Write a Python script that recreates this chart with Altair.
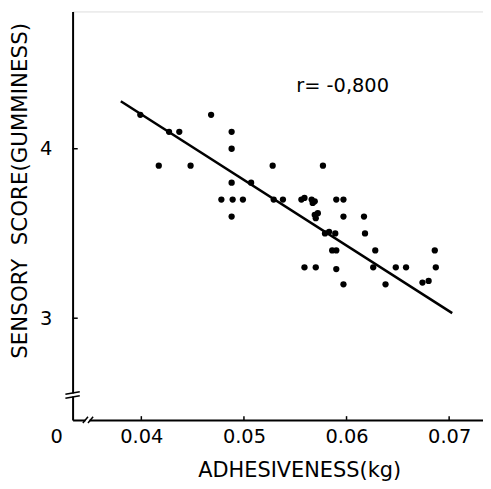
import altair as alt
import pandas as pd

# ---- data ----
adhesiveness = [0.0399, 0.0417, 0.0427, 0.0437, 0.0448, 0.0468, 0.0488, 0.0488, 0.0488, 0.0507,
                0.0478, 0.0489, 0.0499, 0.0529, 0.0538, 0.0528, 0.0488, 0.0556, 0.0559, 0.0566,
                0.0569, 0.0567, 0.0577, 0.0590, 0.0597, 0.0569, 0.0572, 0.0570, 0.0597, 0.0617,
                0.0579, 0.0583, 0.0589, 0.0618, 0.0586, 0.0590, 0.0628, 0.0686, 0.0559, 0.0570,
                0.0590, 0.0626, 0.0648, 0.0658, 0.0687, 0.0597, 0.0638, 0.0674, 0.0680]
score = [4.2, 3.9, 4.1, 4.1, 3.9, 4.2, 4.1, 4.0, 3.8, 3.8,
         3.7, 3.7, 3.7, 3.7, 3.7, 3.9, 3.6, 3.7, 3.71, 3.7,
         3.69, 3.68, 3.9, 3.7, 3.7, 3.61, 3.62, 3.59, 3.6, 3.6,
         3.5, 3.51, 3.5, 3.5, 3.4, 3.4, 3.4, 3.4, 3.3, 3.3,
         3.29, 3.3, 3.3, 3.3, 3.3, 3.2, 3.2, 3.21, 3.22]
fit_x = [0.0380, 0.0703]
fit_y = [4.28, 3.03]
x_ticks = [0.04, 0.05, 0.06, 0.07]
y_ticks = [3, 4]
r_label = "r= -0,800"
x_title = "ADHESIVENESS(kg)"
y_title = "SENSORY\u00a0 SCORE(GUMMINESS)"

XMIN, XMAX = 0.0333, 0.0733
YMIN, YMAX = 2.40, 4.81
W, H = 413, 411
FONT = "DejaVu Sans"

xs = alt.Scale(domain=[XMIN, XMAX], nice=False, zero=False)
ys = alt.Scale(domain=[YMIN, YMAX], nice=False, zero=False)

pts_df = pd.DataFrame({"x": adhesiveness, "y": score})
fit_df = pd.DataFrame({"x": fit_x, "y": fit_y})

x_axis = alt.Axis(values=x_ticks, format=".2f", title=x_title, grid=False,
                  ticks=False, labelPadding=8, domainColor="black", domainWidth=2,
                  labelFont=FONT, labelFontSize=19.5, labelColor="black", labelFlush=False,
                  titleFont=FONT, titleFontSize=21, titleFontWeight="normal", titleColor="black",
                  titleX=228, titleY=51, titleBaseline="middle", titleAlign="center")
y_axis = alt.Axis(values=y_ticks, format="d", title=y_title, grid=False,
                  ticks=False, labelPadding=21, domainColor="black", domainWidth=2,
                  labelFont=FONT, labelFontSize=19.5, labelColor="black", labelFlush=False,
                  titleFont=FONT, titleFontSize=21.5, titleFontWeight="normal", titleColor="black",
                  titleX=-52, titleY=180, titleBaseline="middle", titleAlign="center", titleAngle=-90)

points = alt.Chart(pts_df).mark_circle(size=40, color="black", opacity=1).encode(
    x=alt.X("x:Q", scale=xs, axis=x_axis),
    y=alt.Y("y:Q", scale=ys, axis=y_axis),
)

fit = alt.Chart(fit_df).mark_line(color="black", strokeWidth=2.5).encode(
    x=alt.X("x:Q", scale=xs), y=alt.Y("y:Q", scale=ys))

# inward ticks
xt_df = pd.DataFrame({"x": x_ticks, "y": [YMIN] * len(x_ticks), "y2": [YMIN + 0.022] * len(x_ticks)})
xticks = alt.Chart(xt_df).mark_rule(color="black", strokeWidth=1.5).encode(
    x=alt.X("x:Q", scale=xs), y=alt.Y("y:Q", scale=ys), y2="y2:Q")
yt_df = pd.DataFrame({"y": y_ticks, "x": [XMIN] * len(y_ticks), "x2": [XMIN + 0.0005] * len(y_ticks)})
yticks = alt.Chart(yt_df).mark_rule(color="black", strokeWidth=1.5).encode(
    y=alt.Y("y:Q", scale=ys), x=alt.X("x:Q", scale=xs), x2="x2:Q")

# axis breaks
gap_df = pd.DataFrame({
    "x": [XMIN - 0.0004, 0.03455],
    "x2": [XMIN + 0.0004, 0.03495],
    "y": [2.538, YMIN - 0.02],
    "y2": [2.556, YMIN + 0.02],
})
gaps = alt.Chart(gap_df).mark_rect(color="white").encode(
    x=alt.X("x:Q", scale=xs), x2="x2:Q", y=alt.Y("y:Q", scale=ys), y2="y2:Q")
slash_df = pd.DataFrame({
    "x": [XMIN - 0.0007, XMIN - 0.0007, 0.0343, 0.0348],
    "x2": [XMIN + 0.0007, XMIN + 0.0007, 0.0348, 0.0353],
    "y": [2.528, 2.551, YMIN - 0.018, YMIN - 0.018],
    "y2": [2.543, 2.566, YMIN + 0.018, YMIN + 0.018],
})
slashes = alt.Chart(slash_df).mark_rule(color="black", strokeWidth=1.5).encode(
    x=alt.X("x:Q", scale=xs), x2="x2:Q", y=alt.Y("y:Q", scale=ys), y2="y2:Q")

# r annotation and origin "0"
r_df = pd.DataFrame({"x": [0.0551], "y": [4.37], "t": [r_label]})
rtext = alt.Chart(r_df).mark_text(font=FONT, fontSize=19.5, align="left", baseline="middle",
                                  color="black").encode(
    x=alt.X("x:Q", scale=xs), y=alt.Y("y:Q", scale=ys), text="t:N")
zero_df = pd.DataFrame({"t": ["0"]})
zero = alt.Chart(zero_df).mark_text(font=FONT, fontSize=19.5, align="center", baseline="middle",
                                    color="black").encode(
    x=alt.value(-16), y=alt.value(H + 17), text="t:N")

chart = alt.layer(points, fit, xticks, yticks, gaps, slashes, rtext, zero).properties(
    width=W, height=H,
    autosize=alt.AutoSizeParams(type="none"),
    padding={"left": 65, "top": 2, "right": 0, "bottom": 60},
).configure_view(stroke=None).configure(background="white")

chart.save("out.html", embed_options={"renderer": "svg", "actions": False})
